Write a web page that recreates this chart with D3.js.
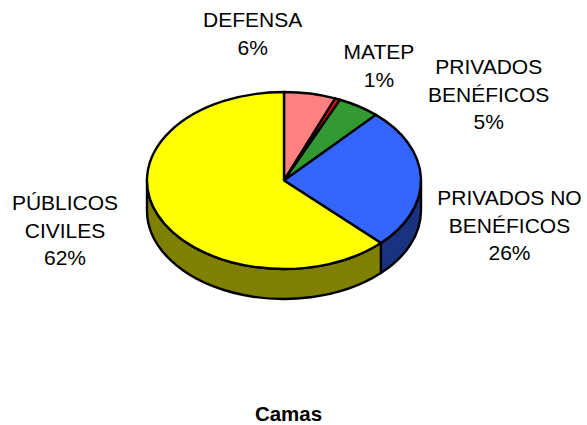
<!DOCTYPE html>
<html>
<head>
<meta charset="utf-8">
<script src="https://cdn.jsdelivr.net/npm/d3@7"></script>
<style>
  html, body { margin: 0; padding: 0; background: #fff; overflow: hidden; }
  svg { display: block; }
  text { font-family: "Liberation Sans", Arial, sans-serif; fill: #000; }
</style>
</head>
<body>
<div id="chart"></div>
<script>
var svgWidth = 587;
var svgHeight = 425;

// Data
var categories = ["DEFENSA", "MATEP", "PRIVADOS BENÉFICOS", "PRIVADOS NO BENÉFICOS", "PÚBLICOS CIVILES"];
var values = [6.1, 0.6, 5.0, 25.8, 62.5];
var percentLabels = ["6%", "1%", "5%", "26%", "62%"];
var labelLines = [["DEFENSA"], ["MATEP"], ["PRIVADOS", "BENÉFICOS"], ["PRIVADOS NO", "BENÉFICOS"], ["PÚBLICOS", "CIVILES"]];
var topColors = ["#ff8080", "#ff0000", "#339933", "#3366ff", "#ffff00"];
var sideColors = ["#804040", "#800000", "#1a4d1a", "#1a3380", "#808000"];

// Layout: [center x, first baseline y] of each label
var cx = 284, cy = 180.5, rx = 137, ry = 88.5, depth = 30;
var labelAnchors = [[252.7, 27], [379, 59], [488.7, 74], [509.5, 205], [65, 210]];
var lineHeight = 27.6;

var svg = d3.select("#chart")
  .append("svg")
  .attr("width", svgWidth)
  .attr("height", svgHeight);

var pie = d3.pie().sort(null).value(function(d) { return d; });
var arcs = pie(values);
var arc = d3.arc().innerRadius(0).outerRadius(rx);

function ex(a) { return cx + rx * Math.sin(a); }
function ey(a) { return cy - ry * Math.cos(a); }

// Side wall, only the part of each slice facing the viewer
var sideGroup = svg.append("g");
arcs.forEach(function(d, i) {
  var a0 = Math.max(d.startAngle, Math.PI / 2);
  var a1 = Math.min(d.endAngle, Math.PI * 1.5);
  if (a1 <= a0) return;
  var p = `M${ex(a0)},${ey(a0)}`
    + `A${rx},${ry} 0 0 1 ${ex(a1)},${ey(a1)}`
    + `L${ex(a1)},${ey(a1) + depth}`
    + `A${rx},${ry} 0 0 0 ${ex(a0)},${ey(a0) + depth}Z`;
  sideGroup.append("path")
    .attr("d", p)
    .attr("fill", sideColors[i])
    .attr("stroke", "#000")
    .attr("stroke-width", 2.4)
    .attr("stroke-linejoin", "round");
});

// Top face
svg.append("g")
  .attr("transform", `translate(${cx},${cy}) scale(1,${ry / rx})`)
  .selectAll("path")
  .data(arcs)
  .enter()
  .append("path")
  .attr("d", arc)
  .attr("fill", function(d, i) { return topColors[i]; })
  .attr("stroke", "#000")
  .attr("stroke-width", 2.4)
  .attr("stroke-linejoin", "round")
  .attr("vector-effect", "non-scaling-stroke");

// Labels
labelLines.forEach(function(lines, i) {
  var t = svg.append("text")
    .attr("text-anchor", "middle")
    .attr("font-size", 21)
    .attr("aria-label", categories[i]);
  lines.concat([percentLabels[i]]).forEach(function(s, j) {
    t.append("tspan")
      .attr("x", labelAnchors[i][0])
      .attr("y", labelAnchors[i][1] + j * lineHeight)
      .text(s);
  });
});

// Title
svg.append("text")
  .attr("x", 288.5)
  .attr("y", 420.5)
  .attr("text-anchor", "middle")
  .attr("font-size", 20.5)
  .attr("font-weight", "bold")
  .text("Camas");
</script>
</body>
</html>
